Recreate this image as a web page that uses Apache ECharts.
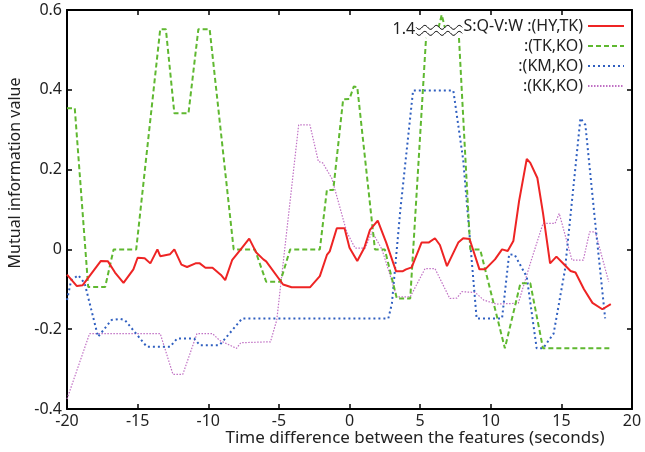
<!DOCTYPE html>
<html>
<head>
<meta charset="utf-8">
<script src="https://cdn.jsdelivr.net/npm/echarts@6/dist/echarts.min.js"></script>
<style>
html,body{margin:0;padding:0;background:#fff;}
#chart{width:645px;height:452px;}
</style>
</head>
<body>
<div id="chart"></div>
<script>
// ---- data (time in seconds, mutual information value) ----
var seriesNames = ['S:Q-V:W :(HY,TK)', ':(TK,KO)', ':(KM,KO)', ':(KK,KO)'];
var xTicks = [-20, -15, -10, -5, 0, 5, 10, 15, 20];
var yTicks = [-0.4, -0.2, 0, 0.2, 0.4, 0.6];
var breakLabel = '1.4';

var hyTk = [[-20,-0.063],[-19.3,-0.092],[-18.9,-0.09],[-17.6,-0.029],[-17.1,-0.03],[-16.6,-0.058],[-16,-0.084],[-15.3,-0.05],[-15.0,-0.021],[-14.5,-0.022],[-14.1,-0.035],[-13.6,0.0],[-13.4,-0.017],[-12.7,-0.012],[-12.4,0.0],[-11.9,-0.038],[-11.5,-0.044],[-10.9,-0.035],[-10.6,-0.035],[-10.2,-0.046],[-9.7,-0.046],[-9.1,-0.064],[-8.8,-0.077],[-8.3,-0.026],[-7.7,0.0],[-7.1,0.027],[-6.6,-0.008],[-6.1,-0.025],[-5.9,-0.03],[-4.7,-0.088],[-4.1,-0.095],[-2.8,-0.095],[-2.1,-0.067],[-1.6,-0.014],[-1.4,-0.005],[-0.9,0.053],[-0.35,0.053],[0,0.004],[0.55,-0.029],[1.05,0.004],[1.45,0.049],[2.0,0.072],[2.6,0.017],[3.3,-0.055],[3.75,-0.055],[4.0,-0.05],[4.4,-0.045],[5.1,0.017],[5.6,0.017],[6.05,0.028],[6.4,0.011],[6.9,-0.042],[7.7,0.017],[8.05,0.028],[8.5,0.026],[9.2,-0.05],[9.6,-0.05],[10.3,-0.025],[10.8,0],[11.2,-0.004],[11.6,0.021],[12.0,0.12],[12.55,0.227],[12.8,0.217],[13.3,0.179],[13.7,0.091],[14.2,-0.035],[14.65,-0.018],[15.2,-0.038],[15.65,-0.054],[16.0,-0.058],[16.6,-0.1],[17.2,-0.134],[17.9,-0.15],[18.5,-0.137]];

var tkKo = [[-20,0.354],[-19.45,0.354],[-18.5,-0.094],[-17.3,-0.094],[-16.7,0],[-15.1,0],[-13.4,0.552],[-13.0,0.552],[-12.4,0.341],[-11.4,0.341],[-10.7,0.552],[-9.9,0.552],[-8.2,0],[-6.7,0],[-5.9,-0.081],[-4.9,-0.081],[-4.2,0],[-2.1,0],[-1.6,0.149],[-1.15,0.149],[-0.45,0.376],[0,0.377],[0.3,0.408],[0.55,0.407],[1.8,0],[2.5,0],[3.35,-0.123],[4.3,-0.123],[5.42,0.53],['-','-'],[6.3,0.555],[6.53,0.588],[6.76,0.555],['-','-'],[7.75,0.53],[8.55,0],[9.25,0],[11.0,-0.248],[12.1,-0.085],[12.8,-0.085],[13.7,-0.248],[18.45,-0.248]];

var kmKo = [[-20,-0.127],[-19.7,-0.077],[-19.2,-0.065],[-18.75,-0.085],[-17.8,-0.219],[-16.85,-0.177],[-16.25,-0.174],[-15.9,-0.177],[-14.35,-0.244],[-12.7,-0.244],[-12.2,-0.223],[-11.0,-0.223],[-10.6,-0.24],[-9.2,-0.24],[-8.6,-0.215],[-7.6,-0.173],[2.75,-0.173],[3.0,-0.136],[3.6,0.099],[4.5,0.398],[7.35,0.398],[8.05,0.224],[9.0,-0.173],[10.8,-0.173],[11.3,-0.012],[11.7,-0.014],[12.55,-0.069],[13.25,-0.248],[13.7,-0.248],[14.45,-0.211],[15.25,-0.052],[16.35,0.329],[16.7,0.312],[17.4,0.065],[18.1,-0.173]];

var kkKo = [[-20,-0.375],[-18.4,-0.211],[-13.4,-0.211],[-12.5,-0.313],[-11.8,-0.313],[-10.8,-0.211],[-9.7,-0.211],[-9.2,-0.228],[-8.0,-0.248],[-7.7,-0.234],[-6.0,-0.232],[-5.6,-0.232],[-5.15,-0.177],[-3.6,0.312],[-2.8,0.312],[-2.2,0.22],[-1.9,0.217],[-1.25,0.178],[-0.2,0.044],[0.4,0.003],[1.1,0.003],[1.6,0.044],[2.3,0],[3.35,-0.119],[4.3,-0.119],[5.35,-0.048],[6.05,-0.048],[7.1,-0.123],[7.6,-0.122],[7.95,-0.106],[8.9,-0.108],[9.5,-0.127],[10.4,-0.137],[11.95,-0.135],[12.8,-0.035],[13.7,0.065],[14.55,0.065],[14.85,0.09],[15.75,-0.027],[16.55,-0.027],[17.0,0.044],[17.4,0.044],[18.35,-0.081]];

// axis-break marker location (data coords) for the off-scale peak of :(TK,KO)
var breakPos = [6.35, 0.549];

var FONT = '"Noto Sans", "DejaVu Sans", sans-serif';
var chart = echarts.init(document.getElementById('chart'), null, {renderer: 'canvas'});

function fmtY(v) { return String(+(+v).toFixed(1)); }

var axisLineStyle = {color: '#000', width: 2};
var tickStyle = {show: true, inside: true, length: 5, lineStyle: {color: '#000', width: 1.5}};
var option = {
  animation: false,
  backgroundColor: '#fff',
  grid: {left: 67, right: 13, top: 10, bottom: 43, containLabel: false},
  legend: {
    orient: 'vertical',
    align: 'right',
    right: 15,
    top: 13,
    itemWidth: 36,
    itemHeight: 14,
    itemGap: 4,
    itemStyle: {opacity: 0},
    textStyle: {fontFamily: FONT, fontSize: 16, color: '#222', lineHeight: 14},
    data: seriesNames
  },
  xAxis: [{
    type: 'value', min: xTicks[0], max: xTicks[xTicks.length - 1], interval: 5,
    axisLine: {show: true, onZero: false, lineStyle: axisLineStyle},
    axisTick: tickStyle,
    axisLabel: {fontFamily: FONT, fontSize: 16, color: '#222', margin: 4},
    splitLine: {show: false}
  }, {
    type: 'value', position: 'top', min: xTicks[0], max: xTicks[xTicks.length - 1], interval: 5,
    axisLine: {show: true, onZero: false, lineStyle: axisLineStyle},
    axisTick: tickStyle,
    axisLabel: {show: false},
    splitLine: {show: false}
  }],
  yAxis: [{
    type: 'value', min: yTicks[0], max: yTicks[yTicks.length - 1], interval: 0.2,
    axisLine: {show: true, onZero: false, lineStyle: axisLineStyle},
    axisTick: tickStyle,
    axisLabel: {fontFamily: FONT, fontSize: 16, color: '#222', margin: 5, formatter: fmtY},
    splitLine: {show: false}
  }, {
    type: 'value', position: 'right', min: yTicks[0], max: yTicks[yTicks.length - 1], interval: 0.2,
    axisLine: {show: true, onZero: false, lineStyle: axisLineStyle},
    axisTick: tickStyle,
    axisLabel: {show: false},
    splitLine: {show: false}
  }],
  series: [
    {name: seriesNames[0], type: 'line', data: hyTk, symbol: 'none', z: 5,
     lineStyle: {color: '#ee2424', width: 2}, itemStyle: {color: '#ee2424'}},
    {name: seriesNames[1], type: 'line', data: tkKo, symbol: 'none', connectNulls: false, z: 4,
     lineStyle: {color: '#5fb830', width: 2, type: [5, 3]}, itemStyle: {color: '#5fb830'}},
    {name: seriesNames[2], type: 'line', data: kmKo, symbol: 'none', z: 3,
     lineStyle: {color: '#2f5fc0', width: 2, type: [2, 3]}, itemStyle: {color: '#2f5fc0'}},
    {name: seriesNames[3], type: 'line', data: kkKo, symbol: 'none', z: 2,
     lineStyle: {color: '#c070c4', width: 1.2, type: [1.5, 1.5]}, itemStyle: {color: '#c070c4'}}
  ]
};
chart.setOption(option);

// axis names + break marker
var c = chart.convertToPixel({gridIndex: 0}, breakPos);
function wave(x0, x1, yc, amp, period) {
  var pts = [];
  for (var x = x0; x <= x1 + 0.01; x += 1) {
    pts.push([x, yc + amp * Math.sin((x - x0) / period * 2 * Math.PI)]);
  }
  return pts;
}
var wx0 = c[0] - 23, wx1 = c[0] + 23;
var up = wave(wx0, wx1, c[1] - 3, 2, 11.5);
var lo = wave(wx0, wx1, c[1] + 3, 2, 11.5);
var fill = up.concat(lo.slice().reverse());
chart.setOption({
  graphic: [
    {type: 'polygon', shape: {points: fill}, style: {fill: '#fff', stroke: null}, z: 100},
    {type: 'polyline', shape: {points: up}, style: {stroke: '#000', lineWidth: 1, fill: null}, z: 101},
    {type: 'polyline', shape: {points: lo}, style: {stroke: '#000', lineWidth: 1, fill: null}, z: 101},
    {type: 'text', x: wx0 - 1, y: c[1] - 1, z: 101,
     style: {text: breakLabel, fontFamily: FONT, fontSize: 16, fill: '#222', align: 'right', verticalAlign: 'middle'}},
    {type: 'text', x: 415, y: 438, z: 50,
     style: {text: 'Time difference between the features (seconds)', fontFamily: FONT, fontSize: 17, fill: '#222', align: 'center', verticalAlign: 'middle'}},
    {type: 'text', x: 15, y: 173, rotation: Math.PI / 2, z: 50,
     style: {text: 'Mutual information value', fontFamily: FONT, fontSize: 16, fill: '#222', align: 'center', verticalAlign: 'middle'}}
  ]
});
</script>
</body>
</html>
